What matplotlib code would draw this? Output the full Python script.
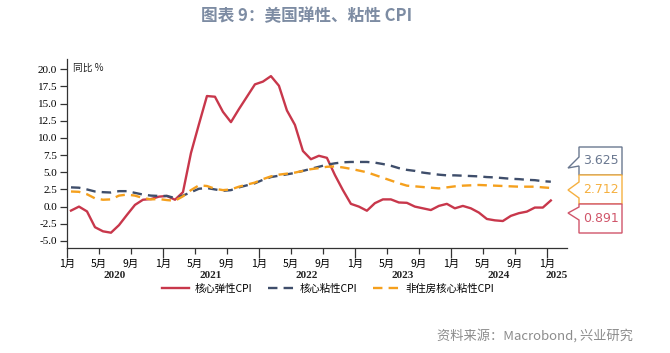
import matplotlib
matplotlib.use("Agg")
import matplotlib.pyplot as plt
import matplotlib.transforms as mtransforms
from matplotlib.patches import Polygon
import numpy as np

plt.rcParams['font.family'] = ['Noto Sans CJK SC', 'DejaVu Sans']

# monthly data, Jan 2020 - Jan 2025 (YoY, %)
flexible = [-0.58, 0.0, -0.7, -3.0, -3.6, -3.8, -2.7, -1.2, 0.25, 1.0, 1.1, 1.45,
            1.55, 1.0, 2.1, 7.8, 12.0, 16.1, 16.0, 13.8, 12.3, 14.2, 16.0, 17.8,
            18.2, 19.0, 17.6, 14.0, 11.9, 8.1, 6.9, 7.4, 7.1, 4.6, 2.4, 0.4,
            0.0, -0.6, 0.5, 1.05, 1.05, 0.6, 0.55, 0.0, -0.25, -0.5, 0.1, 0.4,
            -0.25, 0.1, -0.25, -0.87, -1.8, -2.0, -2.1, -1.35, -0.96, -0.73, -0.14, -0.14,
            0.891]
sticky = [2.8, 2.75, 2.5, 2.2, 2.1, 2.05, 2.25, 2.25, 2.0, 1.75, 1.6, 1.55,
          1.55, 1.25, 1.6, 2.1, 2.6, 2.7, 2.5, 2.3, 2.4, 2.8, 3.1, 3.4,
          3.9, 4.3, 4.5, 4.7, 4.9, 5.2, 5.5, 5.8, 6.1, 6.3, 6.45, 6.5,
          6.5, 6.5, 6.4, 6.2, 5.95, 5.6, 5.35, 5.2, 4.95, 4.8, 4.65, 4.55,
          4.55, 4.5, 4.45, 4.4, 4.3, 4.25, 4.15, 4.05, 4.0, 3.9, 3.85, 3.7,
          3.625]
sticky_ex_shelter = [2.2, 2.15, 1.8, 1.2, 1.0, 1.05, 1.6, 1.75, 1.6, 1.25, 1.05, 1.1,
                     0.95, 0.85, 1.5, 2.4, 3.1, 3.0, 2.6, 2.4, 2.5, 2.9, 3.2, 3.5,
                     4.0, 4.4, 4.65, 4.8, 4.95, 5.2, 5.45, 5.6, 5.8, 5.85, 5.7, 5.5,
                     5.25, 5.0, 4.6, 4.2, 3.8, 3.4, 3.05, 2.95, 2.85, 2.75, 2.65, 2.8,
                     2.95, 3.05, 3.1, 3.15, 3.1, 3.05, 3.0, 2.95, 2.9, 2.9, 2.9, 2.8,
                     2.712]
years = ["2020", "2021", "2022", "2023", "2024", "2025"]
month_labels = ["1月", "5月", "9月"]
series_names = ["核心弹性CPI", "核心粘性CPI", "非住房核心粘性CPI"]

RED = "#c8374b"
NAVY = "#3f4e6b"
ORANGE = "#f5a01d"
AXC = "#333333"

x = np.arange(len(flexible)) + 0.5  # mid-month positions

fig = plt.figure(figsize=(6.7, 3.53), dpi=100)
ax = fig.add_axes([0.1, 0.298, 0.746, 0.535])

ax.plot(x, flexible, color=RED, lw=1.7, label=series_names[0])
ax.plot(x, sticky, color=NAVY, lw=1.7, dashes=(4, 2.6), label=series_names[1])
ax.plot(x, sticky_ex_shelter, color=ORANGE, lw=1.7, dashes=(4, 2.6), label=series_names[2])

ax.set_xlim(0, 62.5)
ax.set_ylim(-6, 21.5)
for s in ["top", "right"]:
    ax.spines[s].set_visible(False)
for s in ["left", "bottom"]:
    ax.spines[s].set_color(AXC)
    ax.spines[s].set_linewidth(0.9)

yt = np.arange(-5, 20.1, 2.5)
ax.set_yticks(yt)
ax.set_yticklabels([f"{v:.1f}" for v in yt], family="Liberation Serif", fontsize=8)
ax.tick_params(axis="y", length=5, width=0.9, color=AXC, pad=2)

major = np.arange(0, 61, 12)
minor = [m for m in range(0, 61, 4) if m % 12 != 0]
ax.set_xticks(major)
ax.set_xticklabels([month_labels[0]] * len(major), fontsize=7.5)
ax.set_xticks(minor, minor=True)
ax.set_xticklabels([month_labels[(m % 12) // 4] for m in minor], minor=True, fontsize=7.5)
ax.tick_params(axis="x", which="major", length=7, width=0.9, color=AXC, pad=1)
ax.tick_params(axis="x", which="minor", length=4, width=0.9, color=AXC, pad=4)

trans = mtransforms.blended_transform_factory(ax.transData, ax.transAxes)
for k, yr in enumerate(years):
    xc = k * 12 + 6 if k < len(years) - 1 else 60 + (62.5 - 60) / 2
    ax.text(xc, -0.145, yr, transform=trans, ha="center", va="center",
            family="Liberation Serif", fontweight="bold", fontsize=8, color="#222222")

fig.text(0.109, 0.807, "同比 %", fontsize=7, color="#222222", va="center")

fig.text(0.458, 0.955, "图表 9：美国弹性、粘性 CPI", ha="center", va="center",
         fontsize=12, fontweight="bold", color="#7d8ca3")
fig.text(0.945, 0.048, "资料来源：Macrobond, 兴业研究", ha="right", va="center",
         fontsize=9.5, color="#8c8c8c")

fig.legend(loc="center", bbox_to_anchor=(0.49, 0.182), ncol=3, frameon=False,
           fontsize=7.5, handlelength=2.6, handletextpad=0.5, columnspacing=1.5)


# callout boxes with last values (pixel layout, y measured from top)
def callout(y0, y1, ya, tip, yb, color, text):
    def px(a, b):
        return (a / 670, 1 - b / 353)
    xl, xr = 579, 622
    pts = [px(xl, y0), px(xr, y0), px(xr, y1), px(xl, y1),
           px(xl, yb), px(*tip), px(xl, ya)]
    fig.add_artist(Polygon(pts, closed=True, facecolor="white", edgecolor=color,
                           lw=1.0, transform=fig.transFigure))
    fig.text((xl + xr) / 2 / 670, 1 - (y0 + y1) / 2 / 353, text, ha="center",
             va="center", fontsize=9, color=color, family="DejaVu Sans")


callout(147, 175, 157, (568, 168), 166, "#6a7890", f"{sticky[-1]:.3f}")
callout(175, 204, 182, (568, 190), 198, "#f5b040", f"{sticky_ex_shelter[-1]:.3f}")
callout(204, 233, 207, (568, 213), 220, "#d0556a", f"{flexible[-1]:.3f}")

fig.savefig("out.png", dpi=100)
